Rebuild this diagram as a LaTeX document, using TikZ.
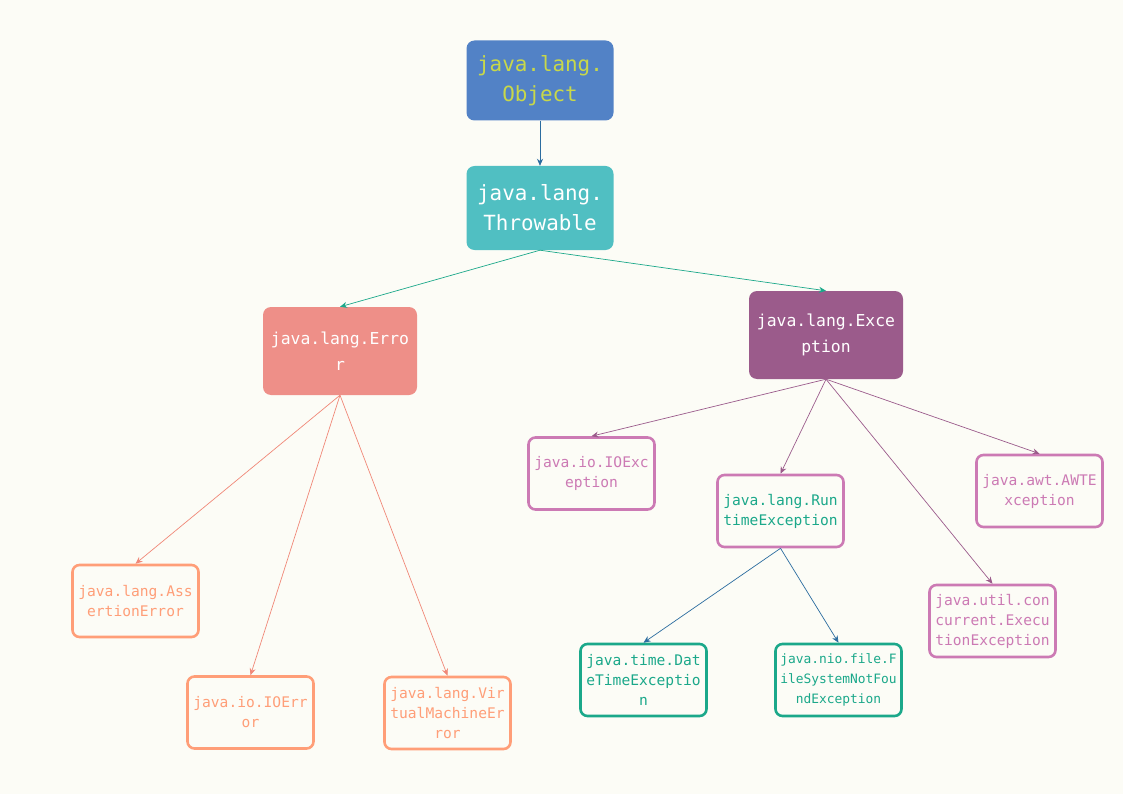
\documentclass[tikz,border=0pt]{standalone}
\usepackage{fontspec}
\setmonofont{DejaVu Sans Mono}
\usepackage{xcolor}
\usetikzlibrary{arrows.meta}
\definecolor{cBg}{HTML}{FCFCF6}
\definecolor{cObj}{HTML}{5282C6}
\definecolor{cObjTxt}{HTML}{C8D84A}
\definecolor{cThr}{HTML}{50BFC2}
\definecolor{cErr}{HTML}{EE8F88}
\definecolor{cExc}{HTML}{9B5B8B}
\definecolor{cPink}{HTML}{CC7AB4}
\definecolor{cOrange}{HTML}{FF9E78}
\definecolor{cTeal}{HTML}{1BA88A}
\definecolor{cBlueLn}{HTML}{2B6C9F}
\definecolor{cErrLn}{HTML}{F08878}

\begin{document}
\begin{tikzpicture}[x=1pt,y=-1pt,font=\ttfamily]
\tikzset{
  big/.style={rounded corners=8pt,minimum width=147pt,minimum height=80pt,align=center,text=white,font=\ttfamily\fontsize{20.9}{30}\selectfont},
  mid/.style={rounded corners=8pt,minimum width=154pt,minimum height=88pt,align=center,text=white,font=\ttfamily\fontsize{16.4}{26}\selectfont},
  leaf/.style={draw,line width=2.6pt,rounded corners=7pt,minimum width=126pt,minimum height=72pt,align=center,fill=cBg,font=\ttfamily\fontsize{14.6}{20}\selectfont},
  ar/.style={-{Stealth[length=7pt,width=6pt]},line width=0.7pt}
}
\fill[cBg] (0,0) rectangle (1123,794);
\useasboundingbox (0,0) rectangle (1123,794);

% top of the tree
\node[big,fill=cObj,text=cObjTxt] (obj) at (540,80.5) {java.lang.\\Object};
\node[big,fill=cThr,minimum height=84pt] (thr) at (540,208) {java.lang.\\Throwable};
\node[mid,fill=cErr] (err) at (340,351) {java.lang.Erro\\r};
\node[mid,fill=cExc] (exc) at (826,335) {java.lang.Exce\\ption};
\draw[ar,cBlueLn] (obj.south) -- (thr.north);
\draw[ar,cTeal] (thr.south) -- (err.north);
\draw[ar,cTeal] (thr.south) -- (exc.north);

% errors
\node[leaf,draw=cOrange,text=cOrange] (ase) at (135.5,601) {java.lang.Ass\\ertionError};
\node[leaf,draw=cOrange,text=cOrange] (ioe) at (250.5,712.5) {java.io.IOErr\\or};
\node[leaf,draw=cOrange,text=cOrange] (vme) at (447.5,713) {java.lang.Vir\\tualMachineEr\\ror};
\draw[ar,cErrLn] (err.south) -- (ase.north);
\draw[ar,cErrLn] (err.south) -- (ioe.north);
\draw[ar,cErrLn] (err.south) -- (vme.north);

% exceptions
\node[leaf,draw=cPink,text=cPink] (ioex) at (591.5,473.5) {java.io.IOExc\\eption};
\node[leaf,draw=cPink,text=cTeal] (rte) at (780.5,511) {java.lang.Run\\timeException};
\node[leaf,draw=cPink,text=cPink] (awt) at (1039.5,491) {java.awt.AWTE\\xception};
\node[leaf,draw=cPink,text=cPink] (exe) at (992.5,621) {java.util.con\\current.Execu\\tionException};
\draw[ar,cExc] (exc.south) -- (ioex.north);
\draw[ar,cExc] (exc.south) -- (rte.north);
\draw[ar,cExc] (exc.south) -- (awt.north);
\draw[ar,cExc] (exc.south) -- (exe.north);

% runtime exceptions
\node[leaf,draw=cTeal,text=cTeal] (dte) at (643.5,680) {java.time.Dat\\eTimeExceptio\\n};
\node[leaf,draw=cTeal,text=cTeal,font=\ttfamily\fontsize{12.9}{20}\selectfont] (fsn) at (838.5,680) {java.nio.file.F\\ileSystemNotFou\\ndException};
\draw[ar,cBlueLn] (rte.south) -- (dte.north);
\draw[ar,cBlueLn] (rte.south) -- (fsn.north);
\end{tikzpicture}
\end{document}
